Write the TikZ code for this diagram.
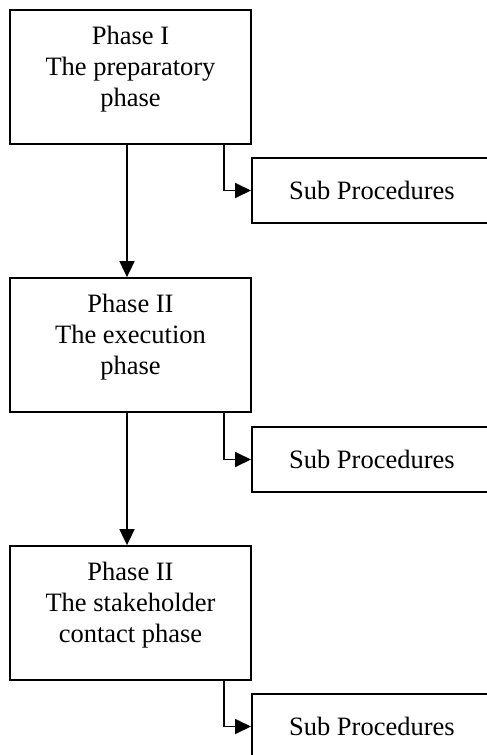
\documentclass[tikz,border=0pt]{standalone}
\usepackage{fontspec}
\setmainfont{Liberation Serif}
\usetikzlibrary{arrows.meta,positioning}
\def\drawflow{\draw[line width=1.8pt,-{Triangle[length=16pt,width=15pt]}]}

\begin{document}
\begin{tikzpicture}[x=1pt,y=-1pt,font=\fontsize{26.5}{31}\selectfont,
  phasebox/.style={draw,line width=1.8pt,minimum width=241pt,minimum height=134pt,inner sep=0pt},
  phasetext/.style={align=center,inner sep=0pt},
  subbox/.style={draw,line width=1.8pt,minimum width=240pt,minimum height=65pt,anchor=west}]
\useasboundingbox (0,0) rectangle (487,755);
\clip (0,0) rectangle (487,755);
% phases
\node[phasebox] (pha) at (130.5,77) {};
\node[phasetext,below=17pt of pha.north] (phatext) {Phase I\\The preparatory\\phase};
\node[phasebox] (phb) at (130.5,345) {};
\node[phasetext,below=17pt of phb.north] (phbtext) {Phase II\\The execution\\phase};
\node[phasebox] (phc) at (130.5,613) {};
\node[phasetext,below=17pt of phc.north] (phctext) {Phase II\\The stakeholder\\contact phase};
% sub procedures
\node[subbox] (suba) at (251,190.5) {Sub Procedures};
\node[subbox] (subb) at (251,459.5) {Sub Procedures};
\node[subbox] (subc) at (251,726.5) {Sub Procedures};
\drawflow ([xshift=-3.5pt]pha.south) -- ([xshift=-3.5pt]phb.north);
\drawflow ([xshift=-3.5pt]phb.south) -- ([xshift=-3.5pt]phc.north);
\drawflow ([xshift=-28pt]pha.south east) |- (suba.west);
\drawflow ([xshift=-28pt]phb.south east) |- (subb.west);
\drawflow ([xshift=-28pt]phc.south east) |- (subc.west);
\end{tikzpicture}
\end{document}
